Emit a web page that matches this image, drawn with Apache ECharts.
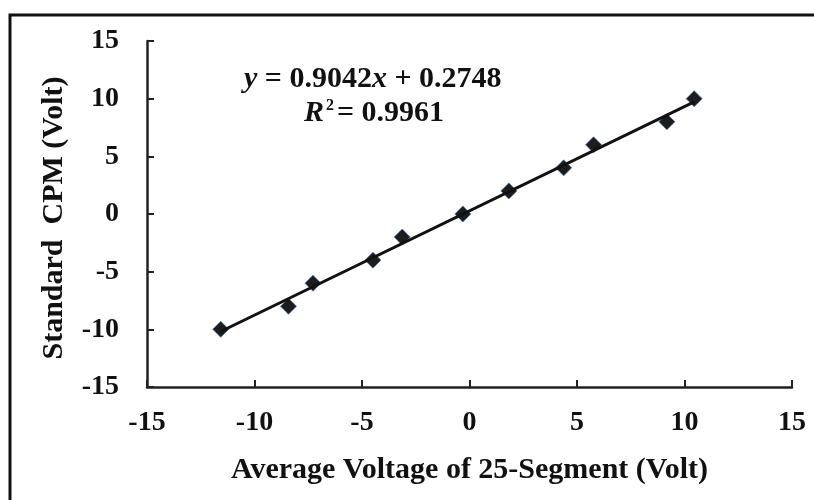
<!DOCTYPE html>
<html>
<head>
<meta charset="utf-8">
<title>Standard CPM vs Average Voltage</title>
<script src="https://cdn.jsdelivr.net/npm/echarts@6/dist/echarts.min.js"></script>
<style>
  html, body { margin: 0; padding: 0; background: #fff; }
  #myChart { width: 814px; height: 500px; }
</style>
</head>
<body>
<div id="myChart"></div>
<script>
// 数据：平均电压 (x) 与标准 CPM (y)
var avg_voltage = [-11.57, -8.42, -7.28, -4.49, -3.13, -0.31, 1.83, 4.38, 5.77, 9.18, 10.45]
var standard_cpm = [-10, -8, -6, -4, -2, 0, 2, 4, 6, 8, 10]
// 趋势线参数 (图中标注)
var slope = 0.9042
var intercept = 0.2748
var r_squared = 0.9961
var axis_ticks = [-15, -10, -5, 0, 5, 10, 15]

var points = avg_voltage.map(function (x, i) { return [x, standard_cpm[i]] })
var x_lo = Math.min.apply(null, avg_voltage)
var x_hi = Math.max.apply(null, avg_voltage)
var trend = [[x_lo, slope * x_lo + intercept], [x_hi, slope * x_hi + intercept]]

var font = '"Liberation Serif", "Times New Roman", serif'

var myChart = echarts.init(document.getElementById('myChart'))
var option = {
  backgroundColor: '#fff',
  animation: false,
  grid: {
    left: 147,
    right: 22,
    top: 41,
    bottom: 113
  },
  xAxis: {
    type: 'value',
    min: axis_ticks[0],
    max: axis_ticks[axis_ticks.length - 1],
    interval: 5,
    name: 'Average Voltage of 25-Segment (Volt)',
    nameLocation: 'middle',
    nameGap: 68,
    nameMoveOverlap: false,
    nameTextStyle: { fontFamily: font, fontWeight: 'bold', fontSize: 30, color: '#111' },
    axisLine: { onZero: false, lineStyle: { color: '#222', width: 2.5 } },
    axisTick: { inside: true, length: 7, lineStyle: { color: '#222', width: 2 } },
    axisLabel: { margin: 22, fontFamily: font, fontWeight: 'bold', fontSize: 28, color: '#111' },
    splitLine: { show: false }
  },
  yAxis: {
    type: 'value',
    min: axis_ticks[0],
    max: axis_ticks[axis_ticks.length - 1],
    interval: 5,
    name: 'Standard  CPM (Volt)',
    nameLocation: 'middle',
    nameGap: 78,
    nameMoveOverlap: false,
    nameTextStyle: { fontFamily: font, fontWeight: 'bold', fontSize: 30, color: '#111', padding: [0, 8, 0, 0] },
    axisLine: { show: true, onZero: false, lineStyle: { color: '#222', width: 2.5 } },
    axisTick: { show: true, inside: true, length: 7, lineStyle: { color: '#222', width: 2 } },
    axisLabel: { margin: 28, fontFamily: font, fontWeight: 'bold', fontSize: 28, color: '#111' },
    splitLine: { show: false }
  },
  graphic: [
    {
      // 外框 (右侧和底部在图外)
      type: 'rect',
      silent: true,
      shape: { x: 10, y: 15, width: 900, height: 600 },
      style: { fill: 'none', stroke: '#111', lineWidth: 3 }
    },
    {
      type: 'text',
      left: 244,
      top: 64,
      style: {
        text: '{i|y} = 0.9042{i|x} + 0.2748',
        fill: '#111',
        font: 'bold 30px ' + font,
        rich: {
          i: { fontFamily: font, fontWeight: 'bold', fontStyle: 'italic', fontSize: 30, fill: '#111' }
        }
      }
    },
    {
      type: 'text',
      left: 304,
      top: 98,
      style: {
        text: '{i|R}{s|2}= ' + r_squared,
        fill: '#111',
        font: 'bold 30px ' + font,
        rich: {
          i: { fontFamily: font, fontWeight: 'bold', fontStyle: 'italic', fontSize: 30, fill: '#111' },
          s: { fontFamily: font, fontWeight: 'bold', fontSize: 16, fill: '#111', verticalAlign: 'top', padding: [0, 3, 12, 2] }
        }
      }
    }
  ],
  series: [
    {
      name: 'trend',
      type: 'line',
      data: trend,
      symbol: 'none',
      lineStyle: { color: '#111', width: 3 },
      z: 3
    },
    {
      name: 'points',
      type: 'scatter',
      data: points,
      symbol: 'diamond',
      symbolSize: 16,
      itemStyle: { color: '#1c1c1c', borderColor: 'rgba(70,110,170,0.7)', borderWidth: 1, opacity: 1 },
      z: 2
    }
  ]
}
myChart.setOption(option)
</script>
</body>
</html>
